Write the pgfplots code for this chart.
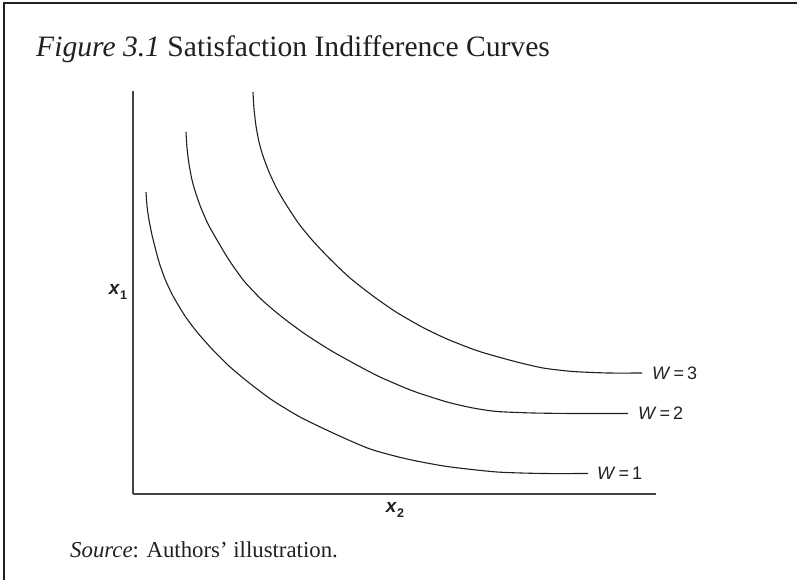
\documentclass[border=0pt]{standalone}
\usepackage{fontspec}
\setmainfont{Liberation Serif}
\setsansfont{Liberation Sans}
\usepackage{pgfplots}
\pgfplotsset{compat=1.18}
\definecolor{ink}{HTML}{231F20}
\definecolor{axisgray}{HTML}{444444}
\begin{document}
\begin{tikzpicture}[x=1pt,y=1pt]
\path[use as bounding box] (0,0) rectangle (797,580);
% frame
\draw[ink, line width=2pt] (4,0) -- (4,577) -- (797,577);
% title
\node[anchor=base west, inner sep=0pt, text=ink] at (36,523)
  {\fontsize{29.6}{34}\selectfont\textit{Figure 3.1} Satisfaction Indifference Curves};
% source
\node[anchor=base west, inner sep=0pt, text=ink] at (70,22)
  {\fontsize{22.8}{26}\selectfont\textit{Source}: Authors’ illustration.};
\begin{axis}[
  at={(133pt,86pt)}, anchor=south west,
  x=1pt, y=1pt,
  xmin=0, xmax=523, ymin=0, ymax=403,
  enlargelimits=false,
  axis x line=bottom, axis y line=left,
  axis line style={-, axisgray, line width=1.4pt},
  xtick=\empty, ytick=\empty,
  clip=false,
]
% W = 1
\addplot[ink, line width=1.1pt, smooth, tension=0.4] coordinates {
(13,302) (14,288) (16,274) (19,259) (22,247) (26,232) (32,215) (40,198) (52,178) (64,162) (79,145) (96,128) (115,112) (139,94) (167,77) (200,61) (237,45) (274,35) (314,27.5) (364,22) (410,20.5) (455,20.5)};
% W = 2
\addplot[ink, line width=1.1pt, smooth, tension=0.4] coordinates {
(53,362) (54,346) (56,330) (59,314) (63,300) (68,286) (75,270) (84,254) (96,234) (111,213) (129,194) (149,177) (172,160) (197,144) (222,130) (247,117) (280,103) (314,92) (340,86) (364,82.5) (400,81) (440,80.5) (495,80.5)};
% W = 3
\addplot[ink, line width=1.1pt, smooth, tension=0.4] coordinates {
(120,402) (121,385) (123,368) (126,352) (130,338) (136,322) (144,305) (154,288) (166,270) (180,253) (197,235) (217,216) (240,198) (263,182) (289,167) (314,155) (345,143) (380,133) (410,126) (440,122.5) (475,121) (509,121)};
\node[anchor=west, inner sep=0pt, text=ink, font=\sffamily\fontsize{18}{18}\selectfont] at (axis cs:464,20.5) {\textit{W}\,=\,1};
\node[anchor=west, inner sep=0pt, text=ink, font=\sffamily\fontsize{18}{18}\selectfont] at (axis cs:505,80.5) {\textit{W}\,=\,2};
\node[anchor=west, inner sep=0pt, text=ink, font=\sffamily\fontsize{18}{18}\selectfont] at (axis cs:519,121) {\textit{W}\,=\,3};
\end{axis}
% axis labels
\node[text=ink, font=\sffamily\bfseries\fontsize{19}{19}\selectfont] at (118,288)
  {\textit{x}\raisebox{-0.3em}{\fontsize{12.5}{12.5}\selectfont 1}};
\node[text=ink, font=\sffamily\bfseries\fontsize{19}{19}\selectfont] at (395,70)
  {\textit{x}\raisebox{-0.3em}{\fontsize{12.5}{12.5}\selectfont 2}};
\end{tikzpicture}
\end{document}
